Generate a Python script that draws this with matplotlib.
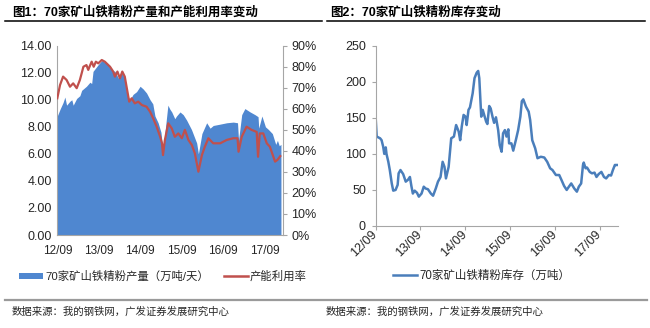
import numpy as np
import pandas as pd
import matplotlib
matplotlib.use("Agg")
import matplotlib.pyplot as plt
from matplotlib.patches import Patch
from matplotlib.lines import Line2D
from matplotlib.ticker import FuncFormatter

plt.rcParams['font.family'] = ['Liberation Sans', 'Noto Sans CJK SC', 'DejaVu Sans']

# 70家矿山铁精粉产量 (万吨/天)
prod_dates = ['2012-09-01', '2012-09-25', '2012-10-22', '2012-11-07', '2012-11-22', '2012-12-22',
              '2013-01-07', '2013-01-19', '2013-02-19', '2013-03-19', '2013-04-04', '2013-05-16',
              '2013-06-16', '2013-07-01', '2013-07-13', '2013-08-28', '2013-09-28', '2013-11-10',
              '2013-12-25', '2014-01-22', '2014-02-22', '2014-03-22', '2014-04-19', '2014-05-07',
              '2014-06-04', '2014-07-01', '2014-08-01', '2014-09-01', '2014-09-28', '2014-10-28',
              '2014-11-28', '2014-12-22', '2015-01-10', '2015-02-07', '2015-03-04', '2015-03-22',
              '2015-04-07', '2015-05-04', '2015-05-22', '2015-06-07', '2015-07-04', '2015-07-19',
              '2015-08-19', '2015-09-16', '2015-10-16', '2015-11-28', '2016-01-13', '2016-01-28',
              '2016-02-28', '2016-04-10', '2016-05-10', '2016-06-07', '2016-08-07', '2016-10-04',
              '2016-12-01', '2017-01-07', '2017-01-16', '2017-02-13', '2017-03-13', '2017-04-28',
              '2017-06-10', '2017-07-07', '2017-07-13', '2017-08-10', '2017-09-10', '2017-10-07',
              '2017-11-10', '2017-12-10', '2017-12-25', '2018-01-10', '2018-01-25']
prod = [8.8, 9.3, 9.8, 10.2, 9.6, 9.9,
        10.0, 9.6, 10.1, 10.3, 10.7, 11.0,
        11.3, 11.2, 12.1, 12.6, 12.9, 12.7,
        12.2, 12.1, 11.6, 12.0, 11.6, 10.4,
        10.0, 10.4, 10.6, 11.0, 10.8, 10.5,
        10.0, 9.7, 8.8, 8.3, 7.6, 6.2,
        7.5, 9.6, 9.3, 9.1, 8.6, 8.8,
        9.1, 8.9, 8.5, 7.8, 6.8, 6.0,
        7.5, 8.3, 7.9, 8.1, 8.2, 8.3,
        8.35, 8.3, 7.0, 8.9, 9.35, 9.1,
        8.9, 8.75, 7.9, 8.8, 8.0, 7.8,
        7.5, 6.7, 7.0, 6.6, 6.7]

# 产能利用率 (%)
util_dates = ['2012-09-01', '2012-09-25', '2012-10-22', '2012-11-22', '2012-12-22', '2013-01-19',
              '2013-02-19', '2013-03-19', '2013-04-04', '2013-04-19', '2013-05-16', '2013-06-01',
              '2013-06-16', '2013-07-01', '2013-07-19', '2013-08-07', '2013-08-28', '2013-09-28',
              '2013-10-25', '2013-12-10', '2014-01-07', '2014-01-22', '2014-02-13', '2014-03-07',
              '2014-03-28', '2014-04-19', '2014-05-10', '2014-05-28', '2014-06-19', '2014-07-16',
              '2014-08-16', '2014-09-16', '2014-10-28', '2014-11-28', '2014-12-25', '2015-01-25',
              '2015-02-25', '2015-03-13', '2015-03-22', '2015-04-07', '2015-05-07', '2015-06-07',
              '2015-07-04', '2015-08-04', '2015-09-04', '2015-10-01', '2015-11-01', '2015-12-01',
              '2015-12-28', '2016-01-28', '2016-02-28', '2016-03-25', '2016-04-25', '2016-06-07',
              '2016-08-07', '2016-10-04', '2016-12-01', '2017-01-07', '2017-01-16', '2017-02-13',
              '2017-03-28', '2017-05-10', '2017-06-25', '2017-07-07', '2017-07-22', '2017-08-22',
              '2017-09-22', '2017-10-19', '2017-11-19', '2017-12-04', '2017-12-25', '2018-01-19']
util = [65, 71.3, 75.3, 73.7, 70.5, 72.1,
        69.8, 73.7, 76.9, 80, 80.8, 78.5,
        80.5, 82.4, 80, 82.4, 81.6, 83.2,
        82.4, 80, 77.7, 75.3, 77.7, 74.5,
        77.7, 75.3, 68.9, 63.4, 65, 62.6,
        63.4, 61.8, 61, 58.6, 55.5, 51.5,
        46.7, 43.6, 38, 45, 53.1, 50.7,
        46.7, 48.3, 46, 50, 45.2, 42.8,
        38.8, 30.1, 38, 42, 46, 43.6,
        43.6, 45.2, 46, 46, 39.6, 46.7,
        51.5, 50, 49, 37.2, 48.3, 48.3,
        43.6, 42, 37.2, 34.9, 35.7, 37.5]

# 70家矿山铁精粉库存 (万吨)
stock_dates = ['2012-09-01', '2012-09-09', '2012-10-07', '2012-10-19', '2012-11-01', '2012-11-10',
               '2012-11-22', '2012-11-28', '2012-12-13', '2012-12-25', '2013-01-10', '2013-01-22',
               '2013-02-10', '2013-02-27', '2013-03-07', '2013-03-22', '2013-04-13', '2013-05-04',
               '2013-05-22', '2013-06-07', '2013-06-19', '2013-07-01', '2013-07-16', '2013-08-04',
               '2013-08-19', '2013-09-10', '2013-09-28', '2013-10-13', '2013-11-01', '2013-11-25',
               '2013-12-13', '2014-01-04', '2014-01-22', '2014-02-12', '2014-03-01', '2014-03-16',
               '2014-03-28', '2014-04-19', '2014-05-10', '2014-06-01', '2014-06-19', '2014-07-10',
               '2014-07-22', '2014-08-04', '2014-08-19', '2014-09-04', '2014-09-13', '2014-09-28',
               '2014-10-10', '2014-11-01', '2014-11-16', '2014-12-04', '2014-12-16', '2014-12-25',
               '2015-01-10', '2015-01-22', '2015-02-07', '2015-02-19', '2015-03-01', '2015-03-16',
               '2015-03-28', '2015-04-13', '2015-04-25', '2015-05-10', '2015-05-28', '2015-06-10',
               '2015-06-25', '2015-07-07', '2015-07-22', '2015-08-04', '2015-08-19', '2015-08-25',
               '2015-09-13', '2015-09-28', '2015-10-19', '2015-11-07', '2015-11-25', '2015-12-07',
               '2015-12-19', '2016-01-10', '2016-02-01', '2016-02-13', '2016-03-01', '2016-03-25',
               '2016-04-13', '2016-05-10', '2016-06-07', '2016-07-01', '2016-07-25', '2016-08-13',
               '2016-09-10', '2016-10-07', '2016-10-25', '2016-11-16', '2016-12-07', '2016-12-25',
               '2017-01-13', '2017-02-07', '2017-02-28', '2017-03-16', '2017-04-04', '2017-04-19',
               '2017-04-25', '2017-05-10', '2017-05-22', '2017-06-13', '2017-07-01', '2017-07-22',
               '2017-08-07', '2017-08-25', '2017-09-16', '2017-10-07', '2017-10-25', '2017-11-16',
               '2017-12-04', '2017-12-19', '2018-01-04', '2018-01-16', '2018-01-28']
stock = [149, 124, 121.6, 119, 110, 100,
         109, 100, 89, 77.6, 59, 49,
         50, 57, 73, 77.6, 72, 61.5,
         64, 68, 55.5, 45, 49, 46,
         40.7, 45, 54.5, 52, 51, 45,
         42, 52, 61.5, 68, 89, 82,
         66, 82, 121.6, 124, 140, 131,
         119, 138, 154, 151.6, 140, 161,
         164.5, 184, 205, 212.6, 215, 205,
         151.6, 161, 151.6, 144.7, 141.4, 166.4,
         163, 150.7, 143, 150.7, 133, 112,
         103, 128.5, 133, 124, 134, 114.6,
         114.6, 104.5, 119, 133, 151.6, 173,
         175.6, 165.5, 158.5, 147, 119, 107.7,
         94, 96, 95, 89, 80, 77.6,
         70.7, 70.7, 64, 55.5, 50, 54.5,
         59, 52, 47.6, 54.5, 59, 84.6,
         88, 80, 81, 75, 73, 74,
         68, 72, 75, 68, 66, 70.7,
         70, 77.6, 84.6, 84.6, 84.6]

year_ticks = ['2012-09-01', '2013-09-01', '2014-09-01', '2015-09-01', '2016-09-01', '2017-09-01']
year_labels = ['12/09', '13/09', '14/09', '15/09', '16/09', '17/09']

blue_fill = '#4F87D0'
red = '#C0504D'
blue_line = '#4A7EBB'
spine_gray = '#A6A6A6'
text_col = '#262626'

fig = plt.figure(figsize=(6.5, 3.28), dpi=100)

# headings with black rule underneath
fig.text(12 / 650, 1 - 12 / 328, '图1：70家矿山铁精粉产量和产能利用率变动', fontsize=9,
         fontweight='bold', va='center', ha='left', color='black')
fig.text(330 / 650, 1 - 12 / 328, '图2：70家矿山铁精粉库存变动', fontsize=9,
         fontweight='bold', va='center', ha='left', color='black')
fig.add_artist(Line2D([5 / 650, 322 / 650], [1 - 21 / 328] * 2, color='black', lw=1.1))
fig.add_artist(Line2D([327 / 650, 645 / 650], [1 - 21 / 328] * 2, color='black', lw=1.1))

# ---- left panel: production area + utilisation line
pd_x = pd.to_datetime(prod_dates)
ud_x = pd.to_datetime(util_dates)
tick_x = pd.to_datetime(year_ticks)

ax = fig.add_axes([57.3 / 650, 1 - 235 / 328, (283 - 57.3) / 650, (235 - 45.7) / 328])
ax.fill_between(pd_x, prod, 0, color=blue_fill, lw=0)
ax.set_ylim(0, 14)
ax.set_yticks(np.arange(0, 15, 2))
ax.yaxis.set_major_formatter(FuncFormatter(lambda v, p: f'{v:.2f}'))
ax.set_xlim(pd.Timestamp('2012-09-01'), pd.Timestamp('2018-02-12'))
ax.set_xticks(tick_x)
ax.set_xticklabels(year_labels)
ax.tick_params(axis='y', length=0, pad=4, labelsize=9, labelcolor=text_col)
ax.tick_params(axis='x', length=0, pad=7, labelsize=8.5, labelcolor=text_col)
for s in ['top', 'right']:
    ax.spines[s].set_visible(False)
for s in ['left', 'bottom']:
    ax.spines[s].set_color(spine_gray)
    ax.spines[s].set_linewidth(0.8)

ax2 = ax.twinx()
ax2.plot(ud_x, util, color=red, lw=1.6)
ax2.set_ylim(0, 90)
ax2.set_yticks(np.arange(0, 91, 10))
ax2.yaxis.set_major_formatter(FuncFormatter(lambda v, p: f'{v:.0f}%'))
ax2.tick_params(axis='y', length=3, width=0.8, color=spine_gray, pad=3,
                labelsize=9, labelcolor=text_col)
for s in ['top', 'left', 'bottom']:
    ax2.spines[s].set_visible(False)
ax2.spines['right'].set_color(spine_gray)
ax2.spines['right'].set_linewidth(0.8)

fig.legend(handles=[Patch(facecolor=blue_fill, edgecolor='none', label='70家矿山铁精粉产量（万吨/天）'),
                    Line2D([], [], color=red, lw=1.8, label='产能利用率')],
           loc='center left', bbox_to_anchor=(19 / 650, 1 - 276 / 328), ncol=2, frameon=False,
           fontsize=8.2, handlelength=2.1, handleheight=0.45, handletextpad=0.2,
           columnspacing=1.3, borderpad=0, borderaxespad=0, labelcolor=text_col)

# ---- right panel: inventory line
sd_x = pd.to_datetime(stock_dates)
bx = fig.add_axes([375.7 / 650, 1 - 226 / 328, (618.3 - 375.7) / 650, (226 - 45.7) / 328])
bx.plot(sd_x, stock, color=blue_line, lw=1.8)
bx.set_ylim(0, 250)
bx.set_yticks(np.arange(0, 251, 50))
bx.set_xlim(pd.Timestamp('2012-09-01'), pd.Timestamp('2018-02-01'))
bx.set_xticks(tick_x)
bx.set_xticklabels(year_labels, rotation=45, ha='right', va='center', rotation_mode='anchor')
bx.tick_params(axis='both', length=3, width=0.8, color=spine_gray, labelsize=9,
               labelcolor=text_col)
bx.tick_params(axis='x', pad=2)
bx.tick_params(axis='y', pad=4)
for s in ['top', 'right']:
    bx.spines[s].set_visible(False)
for s in ['left', 'bottom']:
    bx.spines[s].set_color(spine_gray)
    bx.spines[s].set_linewidth(0.8)

fig.legend(handles=[Line2D([], [], color=blue_line, lw=1.8, label='70家矿山铁精粉库存（万吨）')],
           loc='center left', bbox_to_anchor=(393 / 650, 1 - 276 / 328), frameon=False,
           fontsize=8.3, handlelength=2.1, handletextpad=0.2, borderpad=0, borderaxespad=0,
           labelcolor=text_col)

# footer rule and sources
fig.add_artist(Line2D([5 / 650, 647 / 650], [1 - 300 / 328] * 2, color='#9A9A9A', lw=1.6))
fig.text(12 / 650, 1 - 312 / 328, '数据来源：我的钢铁网，广发证券发展研究中心', fontsize=7.5,
         va='center', ha='left', color=text_col)
fig.text(326 / 650, 1 - 312 / 328, '数据来源：我的钢铁网，广发证券发展研究中心', fontsize=7.5,
         va='center', ha='left', color=text_col)

fig.savefig('out.png', dpi=100)
